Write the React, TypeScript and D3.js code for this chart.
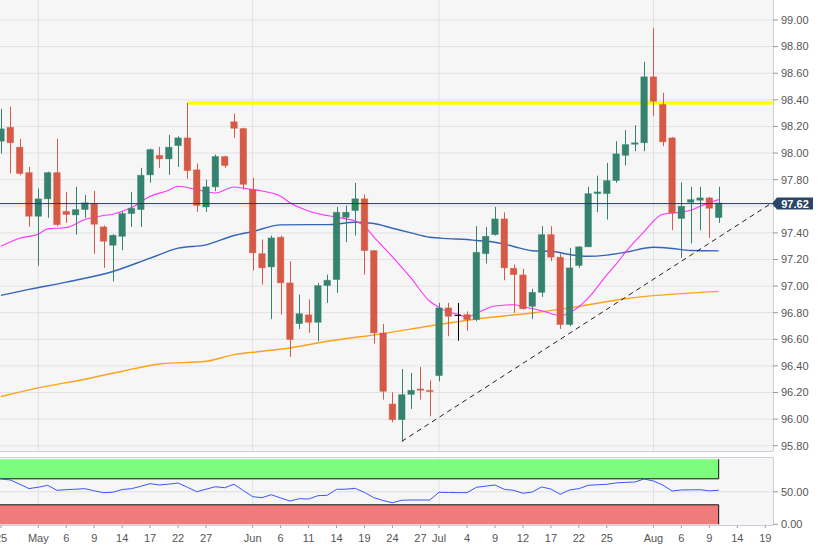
import React from 'react';
import * as d3 from 'd3';

// Trading days shown (daily candles)
const dates = [
  '2019-04-25','2019-04-26','2019-04-29','2019-04-30','2019-05-01','2019-05-02','2019-05-03','2019-05-06','2019-05-07','2019-05-08',
  '2019-05-09','2019-05-10','2019-05-13','2019-05-14','2019-05-15','2019-05-16','2019-05-17','2019-05-20','2019-05-21','2019-05-22',
  '2019-05-23','2019-05-24','2019-05-27','2019-05-28','2019-05-29','2019-05-30','2019-05-31','2019-06-03','2019-06-04','2019-06-05',
  '2019-06-06','2019-06-07','2019-06-10','2019-06-11','2019-06-12','2019-06-13','2019-06-14','2019-06-17','2019-06-18','2019-06-19',
  '2019-06-20','2019-06-21','2019-06-24','2019-06-25','2019-06-26','2019-06-27','2019-06-28','2019-07-01','2019-07-02','2019-07-03',
  '2019-07-04','2019-07-05','2019-07-08','2019-07-09','2019-07-10','2019-07-11','2019-07-12','2019-07-15','2019-07-16','2019-07-17',
  '2019-07-18','2019-07-19','2019-07-22','2019-07-23','2019-07-24','2019-07-25','2019-07-26','2019-07-29','2019-07-30','2019-07-31',
  '2019-08-01','2019-08-02','2019-08-05','2019-08-06','2019-08-07','2019-08-08','2019-08-09','2019-08-12'
];

const open = [
  98.089,98.194,98.044,97.853,97.525,97.656,97.853,97.562,97.535,97.575,
  97.623,97.445,97.307,97.374,97.545,97.575,97.836,97.983,97.956,98.056,
  98.114,97.874,97.595,97.746,97.974,98.235,98.184,97.726,97.244,97.144,
  97.367,97.024,96.718,96.784,96.728,97.004,97.049,97.517,97.568,97.656,
  97.267,96.648,96.114,95.996,96.186,96.227,96.217,96.327,96.836,96.780,
  96.786,96.748,97.244,97.387,97.505,97.134,97.084,96.848,96.953,97.387,
  97.217,96.711,97.155,97.295,97.695,97.695,97.793,97.983,98.066,98.077,
  98.573,98.365,98.114,97.508,97.630,97.645,97.663,97.515
];
const high = [
  98.332,98.347,98.107,97.896,97.735,97.860,98.107,97.708,97.746,97.686,
  97.716,97.455,97.390,97.562,97.708,97.889,98.034,98.047,98.137,98.126,
  98.377,97.921,97.800,97.989,97.980,98.297,98.190,97.814,97.350,97.380,
  97.380,97.187,96.936,96.900,97.024,97.086,97.595,97.605,97.776,97.688,
  97.270,96.716,96.202,96.377,96.347,96.392,96.292,96.874,96.874,96.874,
  96.810,97.450,97.445,97.595,97.555,97.162,97.130,96.979,97.450,97.450,
  97.244,97.287,97.300,97.746,97.830,97.926,98.089,98.171,98.209,98.686,
  98.941,98.453,98.120,97.780,97.746,97.746,97.670,97.746
];
const low = [
  97.996,97.846,97.833,97.445,97.154,97.513,97.450,97.475,97.387,97.513,
  97.244,97.137,97.036,97.269,97.445,97.445,97.776,97.889,97.836,97.896,
  97.806,97.558,97.558,97.713,97.889,98.114,97.726,97.117,97.011,96.753,
  96.786,96.468,96.678,96.648,96.585,96.874,96.949,97.330,97.380,97.087,
  96.568,96.147,95.976,95.833,96.077,96.147,96.021,96.284,96.623,96.590,
  96.665,96.735,97.170,97.380,97.044,96.798,96.823,96.753,96.919,97.187,
  96.678,96.698,97.137,97.295,97.555,97.500,97.776,97.906,98.014,98.014,
  98.277,98.051,97.420,97.212,97.320,97.420,97.362,97.475
];
const close = [
  98.182,98.077,97.846,97.525,97.656,97.853,97.462,97.538,97.575,97.626,
  97.465,97.337,97.382,97.545,97.585,97.833,98.026,97.956,98.044,98.114,
  97.868,97.607,97.746,97.974,97.906,98.186,97.765,97.250,97.137,97.362,
  97.024,96.598,96.793,96.728,97.004,97.044,97.555,97.555,97.656,97.267,
  96.648,96.209,95.996,96.184,96.217,96.217,96.207,96.836,96.773,96.780,
  96.748,97.254,97.374,97.505,97.137,97.086,96.829,96.953,97.387,97.217,
  96.711,97.137,97.295,97.695,97.708,97.793,97.994,98.064,98.077,98.573,
  98.389,98.084,97.550,97.600,97.650,97.663,97.585,97.625
];

// RSI (one value per trading day)
const rsi = [
  69.7,68.2,61.7,55.0,57.0,60.0,52.3,53.3,54.0,54.8,
  51.5,48.6,49.3,53.5,54.8,58.5,62.5,60.5,61.8,63.5,
  57.0,50.2,54.0,57.8,56.3,61.5,52.0,42.5,41.0,45.5,
  40.5,35.8,39.4,38.9,44.0,44.6,53.8,54.0,55.4,49.0,
  41.0,36.5,33.2,37.0,37.4,37.4,37.4,49.2,49.0,48.8,
  48.6,56.9,58.7,60.5,53.8,52.3,47.7,49.7,57.4,54.3,
  46.2,52.8,54.8,60.0,60.8,61.5,63.7,64.5,65.0,69.7,
  66.6,60.5,51.2,52.8,53.0,53.2,51.5,52.3
];

// Moving averages read at trading-day indices
const maFastIdx = [0,2,4,5,7,9,11,12,14,16,18,19,21,23,25,26,28,30,31,33,35,37,38,39,40,42,44,46,47,48,49,50,51,53,55,56,58,60,61,63,65,66,67,69,71,73,74,75,77];
const maFast = [97.30,97.36,97.39,97.43,97.44,97.50,97.53,97.54,97.59,97.675,97.72,97.75,97.725,97.70,97.745,97.735,97.715,97.675,97.626,97.565,97.53,97.505,97.49,97.45,97.37,97.22,97.06,96.886,96.84,96.805,96.79,96.765,96.795,96.85,96.86,96.845,96.815,96.778,96.80,96.91,97.085,97.165,97.255,97.41,97.54,97.556,97.57,97.60,97.65];
const maMidIdx = [0,3,7,12,16,19,22,25,27,30,33,35,38,40,42,44,46,48,50,51,53,55,57,59,61,63,65,67,70,72,74,77];
const maMid = [96.93,96.975,97.03,97.11,97.21,97.285,97.31,97.38,97.41,97.46,97.462,97.462,97.48,97.47,97.435,97.40,97.367,97.357,97.35,97.343,97.33,97.298,97.266,97.262,97.237,97.224,97.233,97.254,97.292,97.283,97.267,97.265];
const maSlowIdx = [0,4,9,13,17,22,25,28,31,35,41,46,51,57,61,67,77];
const maSlow = [96.17,96.235,96.30,96.36,96.415,96.435,96.485,96.51,96.535,96.585,96.643,96.70,96.753,96.798,96.836,96.905,96.96];

// Axis ticks
const xTickIdx = [0,4,7,10,13,16,19,22,27,30,33,36,39,42,45,47,50,53,56,59,62,65,70,73,76,79,82];
const xTickLabels = ['25','May','6','9','14','17','22','27','Jun','6','11','14','19','24','27','Jul','4','9','12','17','22','25','Aug','6','9','14','19'];
const monthIdx = [4,27,47,70];
const priceTicks = [99.0,98.8,98.6,98.4,98.2,98.0,97.8,97.6,97.4,97.2,97.0,96.8,96.6,96.4,96.2,96.0,95.8];
const priceTickLabels = ['99.00','98.80','98.60','98.40','98.20','98.00','97.80','','97.40','97.20','97.00','96.80','96.60','96.40','96.20','96.00','95.80'];
const rsiTicks = [50, 0];
const rsiTickLabels = ['50.00', '0.00'];

// Annotations
const lastPrice = 97.62;
const resistanceLevel = 98.376;
const resistanceStartIdx = 20;
const trendIdx = [43, 82.6];
const trendPrice = [95.833, 97.62];

const FONT = '"Liberation Sans", Arial, Helvetica, sans-serif';
const GREEN = '#35836e';
const RED = '#d65a48';

export default function App() {
  const W = 823, H = 555;
  const R = 773;
  const mainBottom = 451;
  const rsiTop = 457.5, rsiBottom = 525.5;

  const x = d3.scaleLinear().domain([-0.107, 82.83]).range([0, R]);
  const y = d3.scaleLinear().domain([95.7606, 99.1503]).range([mainBottom, 0]);
  const yr = d3.scaleLinear().domain([0, 100]).range([524.3, 459.3]);

  const lineIdx = d3.line<[number, number]>()
    .x(d => x(d[0]))
    .y(d => y(d[1]))
    .curve(d3.curveMonotoneX);
  const rsiLine = d3.line<number>()
    .x((_, i) => x(i))
    .y(d => yr(d));

  const fastPath = lineIdx(maFastIdx.map((i, k) => [i, maFast[k]]));
  const midPath = lineIdx(maMidIdx.map((i, k) => [i, maMid[k]]));
  const slowPath = lineIdx(maSlowIdx.map((i, k) => [i, maSlow[k]]));

  const bw = 6.6;
  const lastX = x(dates.length - 1);
  const yl = y(lastPrice);

  return (
    <svg width={W} height={H} style={{ position: 'fixed', left: 0, top: 0, background: '#fff' }}
      fontFamily={FONT}>
      <defs>
        <clipPath id="mainClip"><rect x={0} y={0} width={R} height={mainBottom} /></clipPath>
        <clipPath id="rsiClip"><rect x={0} y={rsiTop} width={R} height={rsiBottom - rsiTop} /></clipPath>
      </defs>

      {/* main panel background */}
      <rect x={0} y={0} width={R} height={mainBottom} fill="#f6f6f6" />
      {priceTicks.map(p => (
        <line key={'g' + p} x1={0} x2={R} y1={y(p)} y2={y(p)} stroke="#e2e2e2" strokeWidth={1} />
      ))}
      {monthIdx.map(i => (
        <line key={'m' + i} x1={x(i)} x2={x(i)} y1={0} y2={mainBottom} stroke="#e2e2e2" strokeWidth={1} />
      ))}

      <g clipPath="url(#mainClip)">
        {/* resistance */}
        <line x1={x(resistanceStartIdx)} x2={R} y1={y(resistanceLevel)} y2={y(resistanceLevel)} stroke="#ffff00" strokeWidth={3.5} />
        {/* moving averages */}
        <path d={slowPath || ''} fill="none" stroke="#ffa21a" strokeWidth={1.4} />
        <path d={midPath || ''} fill="none" stroke="#3465b8" strokeWidth={1.4} />
        <path d={fastPath || ''} fill="none" stroke="#ff33ff" strokeWidth={1.1} />
        {/* candles */}
        {dates.map((d, i) => {
          const o = open[i], c = close[i], h = high[i], l = low[i];
          const col = c > o ? GREEN : c < o ? RED : '#000';
          const cx = x(i);
          const top = y(Math.max(o, c)), bot = y(Math.min(o, c));
          const wx = Math.round(cx) + 0.5;
          return (
            <g key={d}>
              <line x1={wx} x2={wx} y1={y(h)} y2={y(l)} stroke={col} strokeWidth={1} />
              {c === o ? (
                <line x1={cx - bw / 2} x2={cx + bw / 2} y1={top} y2={top} stroke={col} strokeWidth={1} />
              ) : (
                <rect x={cx - bw / 2} y={top} width={bw} height={Math.max(1, bot - top)} fill={col}
                  stroke={col} strokeOpacity={0.45} strokeWidth={0.8} />
              )}
            </g>
          );
        })}
        {/* last price line */}
        <line x1={0} x2={R} y1={yl} y2={yl} stroke="#223a5e" strokeWidth={1} />
        {/* trend line */}
        <line x1={x(trendIdx[0])} y1={y(trendPrice[0])} x2={x(trendIdx[1])} y2={y(trendPrice[1])}
          stroke="#222" strokeWidth={1} strokeDasharray="5,4" />
      </g>

      {/* main panel borders */}
      <line x1={R + 0.5} x2={R + 0.5} y1={0} y2={mainBottom} stroke="#c9d0db" />
      <line x1={0} x2={R} y1={mainBottom + 0.5} y2={mainBottom + 0.5} stroke="#c9d0db" />

      {/* price axis */}
      {priceTicks.map((p, k) => (
        <g key={'t' + p}>
          <line x1={R} x2={R + 5} y1={y(p)} y2={y(p)} stroke="#999" />
          {priceTickLabels[k] && (
            <text x={R + 8} y={y(p)} dy="0.35em" fontSize={11} fill="#555">{priceTickLabels[k]}</text>
          )}
        </g>
      ))}

      {/* last price label */}
      <path d={`M${R - 1},${yl} L${R + 4},${yl - 6} L${R + 40},${yl - 6} L${R + 40},${yl + 6} L${R + 4},${yl + 6} Z`} fill="#2b4566" />
      <text x={R + 22} y={yl} dy="0.36em" textAnchor="middle" fontSize={11} fontWeight="bold" fill="#fff">{lastPrice.toFixed(2)}</text>

      {/* RSI panel */}
      <rect x={0} y={rsiTop} width={R} height={rsiBottom - rsiTop} fill="#f6f6f6" />
      <line x1={0} x2={R} y1={yr(50)} y2={yr(50)} stroke="#e2e2e2" />
      {monthIdx.map(i => (
        <line key={'rm' + i} x1={x(i)} x2={x(i)} y1={rsiTop} y2={rsiBottom} stroke="#e2e2e2" />
      ))}
      <g clipPath="url(#rsiClip)">
        <rect x={0} y={yr(100)} width={lastX} height={yr(70) - yr(100)} fill="#7dfc7d" />
        <rect x={0} y={yr(30)} width={lastX} height={yr(0) - yr(30)} fill="#f07b7b" />
        <line x1={0} x2={lastX} y1={yr(70)} y2={yr(70)} stroke="#111" strokeWidth={1} />
        <line x1={0} x2={lastX} y1={yr(30)} y2={yr(30)} stroke="#111" strokeWidth={1} />
        <line x1={lastX} x2={lastX} y1={yr(100)} y2={yr(70)} stroke="#111" strokeWidth={1} />
        <line x1={lastX} x2={lastX} y1={yr(30)} y2={yr(0)} stroke="#111" strokeWidth={1} />
        <path d={rsiLine(rsi) || ''} fill="none" stroke="#3a55ff" strokeWidth={1} />
      </g>
      <line x1={0} x2={R} y1={rsiTop} y2={rsiTop} stroke="#c9d0db" />
      <line x1={0} x2={R} y1={rsiBottom} y2={rsiBottom} stroke="#c9d0db" />
      <line x1={R + 0.5} x2={R + 0.5} y1={rsiTop} y2={rsiBottom} stroke="#c9d0db" />
      {rsiTicks.map((v, k) => (
        <g key={'r' + v}>
          <line x1={R} x2={R + 5} y1={yr(v)} y2={yr(v)} stroke="#999" />
          <text x={R + 8} y={yr(v)} dy="0.35em" fontSize={11} fill="#555">{rsiTickLabels[k]}</text>
        </g>
      ))}

      {/* x axis */}
      {xTickIdx.map((i, k) => (
        <g key={'x' + k}>
          <line x1={x(i)} x2={x(i)} y1={rsiBottom} y2={rsiBottom + 2.5} stroke="#999" />
          <text x={x(i)} y={542} textAnchor="middle" fontSize={11} fill="#555">{xTickLabels[k]}</text>
        </g>
      ))}
    </svg>
  );
}
